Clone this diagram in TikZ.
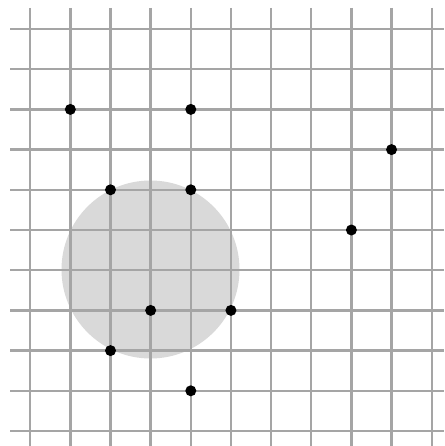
\documentclass[tikz,border=0pt]{standalone}
\definecolor{gridgray}{RGB}{165,165,165}
\definecolor{diskgray}{RGB}{217,217,217}
\tikzset{
  gridline/.style={draw=gridgray, line width=2.4pt},
  pt/.style={circle, fill=black, inner sep=0pt, minimum size=11pt},
  disk/.style={fill=diskgray}
}
\begin{document}
\begin{tikzpicture}[x=1pt,y=-1pt]
\useasboundingbox[fill=white] (0,0) rectangle (444,446);
% disk
\fill[disk] (150.5,269.5) circle (89);
% grid
\foreach \k in {0,...,10} {
  \draw[gridline] ({30.2+40.15*\k},8) -- ({30.2+40.15*\k},446);
  \draw[gridline] (10,{29+40.2*\k}) -- (444,{29+40.2*\k});
}
% points
\newcommand{\gx}[1]{30.2+40.15*#1}
\newcommand{\gy}[1]{29+40.2*#1}
\node[pt] (p1) at ({\gx{1}},{\gy{2}}) {};
\node[pt] (p2) at ({\gx{4}},{\gy{2}}) {};
\node[pt] (p3) at ({\gx{9}},{\gy{3}}) {};
\node[pt] (p4) at ({\gx{2}},{\gy{4}}) {};
\node[pt] (p5) at ({\gx{4}},{\gy{4}}) {};
\node[pt] (p6) at ({\gx{8}},{\gy{5}}) {};
\node[pt] (p7) at ({\gx{3}},{\gy{7}}) {};
\node[pt] (p8) at ({\gx{5}},{\gy{7}}) {};
\node[pt] (p9) at ({\gx{2}},{\gy{8}}) {};
\node[pt] (p10) at ({\gx{4}},{\gy{9}}) {};
\end{tikzpicture}
\end{document}
